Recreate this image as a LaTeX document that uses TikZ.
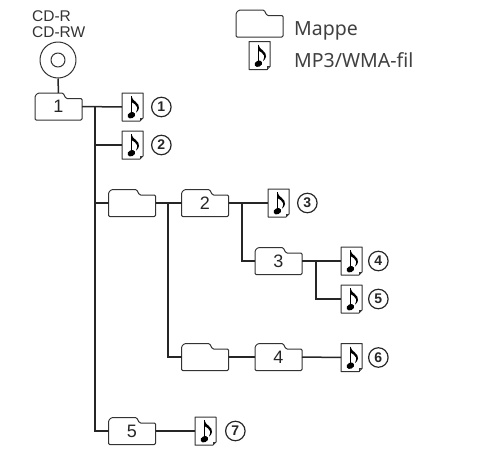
\documentclass[tikz,border=0pt]{standalone}
\usepackage{fontspec}
\setmainfont{Liberation Sans}
\newfontfamily\legendfont{Noto Sans}
\usepackage{tikz}
\usetikzlibrary{positioning}

\tikzset{
  wire/.style={line width=1.5pt,black!85},
  outline/.style={line width=1pt,black!80,line join=round},
  folderbox/.style={minimum width=47pt,minimum height=27pt,inner sep=0pt,outer sep=0pt,font=\fontsize{18}{18}\selectfont,text=black!85},
  filebox/.style={minimum width=21pt,minimum height=28pt,inner sep=0pt,outer sep=0pt},
  numbadge/.style={circle,draw,line width=1.2pt,black!85,minimum size=19.5pt,inner sep=0pt,font=\fontsize{14}{14}\selectfont\bfseries},
  cdlabel/.style={anchor=west,inner sep=0pt,font=\fontsize{15.5}{15.5}\selectfont,text=black!80},
  legendlabel/.style={anchor=west,inner sep=0pt,font=\legendfont\fontsize{19.5}{19.5}\selectfont,text=black!75}
}

% folder outline with the tab on the upper left
\newcommand{\folderat}[3]{
  \node[folderbox] (#1) at (#2) {\raisebox{-2pt}{#3}};
  \draw[outline,rounded corners=1.2pt] (#1.south west)
    -- ([yshift=-3pt]#1.north west) -- ([xshift=3pt]#1.north west)
    -- ([xshift=28pt]#1.north west) -- ([xshift=31pt,yshift=-5.5pt]#1.north west)
    -- ([yshift=-5.5pt]#1.north east) -- (#1.south east) -- cycle;
}
% music file with a small folded corner and a note
\newcommand{\fileat}[2]{
  \node[filebox] (#1) at (#2) {};
  \draw[outline] (#1.north west) -- (#1.north east) -- ([yshift=3pt]#1.south east)
    -- ([xshift=-3pt]#1.south east) -- (#1.south west) -- cycle;
  \draw[line width=0.6pt,black!80] ([yshift=3pt]#1.south east) -- ([xshift=-3pt,yshift=3pt]#1.south east) -- ([xshift=-3pt]#1.south east);
  \fill[black,rotate around={25:([xshift=-4.5pt,yshift=-7pt]#1.center)}] ([xshift=-4.5pt,yshift=-7pt]#1.center) ellipse (4pt and 3pt);
  \draw[line width=1.1pt,black] ([xshift=-1.2pt,yshift=-6pt]#1.center) -- ([xshift=-1.2pt,yshift=11pt]#1.center);
  \fill[black] ([xshift=-1.2pt,yshift=11pt]#1.center)
    .. controls ([xshift=-0.5pt,yshift=6pt]#1.center) and ([xshift=7.5pt,yshift=4pt]#1.center) .. ([xshift=6.5pt,yshift=-1pt]#1.center)
    .. controls ([xshift=6.2pt,yshift=-3pt]#1.center) and ([xshift=5pt,yshift=-4.5pt]#1.center) .. ([xshift=3.5pt,yshift=-5.5pt]#1.center)
    .. controls ([xshift=4.5pt,yshift=-3.5pt]#1.center) and ([xshift=5pt,yshift=-1.5pt]#1.center) .. ([xshift=4.5pt,yshift=0pt]#1.center)
    .. controls ([xshift=4pt,yshift=2.5pt]#1.center) and ([xshift=1pt,yshift=3.5pt]#1.center) .. ([xshift=-1.2pt,yshift=5pt]#1.center) -- cycle;
}

\begin{document}
\begin{tikzpicture}[x=1pt,y=-1pt]
\useasboundingbox (0,0) rectangle (488,463);

% legend
\folderat{legendfolder}{259.5,23.5}{}
\fileat{legendfile}{259.5,55.5}
\node[legendlabel] (legendmappe) at (294,31) {Mappe};
\node[legendlabel] (legendmp) at (294,60) {MP3/WMA-fil};

% disc
\node[cdlabel] (cdr) at (32,16) {CD-R};
\node[cdlabel] (cdrw) at (32,32) {CD-RW};
\node[circle,draw,outline,minimum size=36pt,inner sep=0pt] (disc) at (58,60) {};
\node[circle,draw,outline,minimum size=14pt,inner sep=0pt] (hole) at (58,60) {};

% folders
\folderat{folderone}{58.5,106.5}{1}
\folderat{folderblank}{132,203}{}
\folderat{foldertwo}{205,203}{2}
\folderat{folderthree}{278.5,261}{3}
\folderat{folderblanktwo}{205,357}{}
\folderat{folderfour}{278.5,357}{4}
\folderat{folderfive}{132,431}{5}

% files
\fileat{fileone}{132.5,107}
\fileat{filetwo}{132.5,145}
\fileat{filethree}{278.5,203}
\fileat{filefour}{351.5,261}
\fileat{filefive}{351.5,299}
\fileat{filesix}{351.5,357.5}
\fileat{fileseven}{205.5,431}

% numbers
\node[numbadge,right=8pt of fileone] (numone) {1};
\node[numbadge,right=8pt of filetwo] (numtwo) {2};
\node[numbadge,right=8pt of filethree] (numthree) {3};
\node[numbadge,right=6pt of filefour] (numfour) {4};
\node[numbadge,right=6pt of filefive] (numfive) {5};
\node[numbadge,right=6pt of filesix] (numsix) {6};
\node[numbadge,right=9pt of fileseven] (numseven) {7};

% branch points
\coordinate (trunk) at (95,107);
\coordinate (trunktwo) at (168,203);
\coordinate (trunkthree) at (242,203);
\coordinate (trunkfour) at (316,261);

% connectors
\draw[wire] (disc.south) -- (folderone.north);
\draw[wire] (folderone.east) -- (fileone.west);
\draw[wire] (trunk) |- (filetwo.west);
\draw[wire] (trunk) |- (folderblank.west);
\draw[wire] (trunk) |- (folderfive.west);
\draw[wire] (folderblank.east) -- (foldertwo.west);
\draw[wire] (trunktwo) |- (folderblanktwo.west);
\draw[wire] (foldertwo.east) -- (filethree.west);
\draw[wire] (trunkthree) |- (folderthree.west);
\draw[wire] (folderthree.east) -- (filefour.west);
\draw[wire] (trunkfour) |- (filefive.west);
\draw[wire] (folderblanktwo.east) -- (folderfour.west);
\draw[wire] (folderfour.east) -- (filesix.west);
\draw[wire] (folderfive.east) -- (fileseven.west);
\end{tikzpicture}
\end{document}
